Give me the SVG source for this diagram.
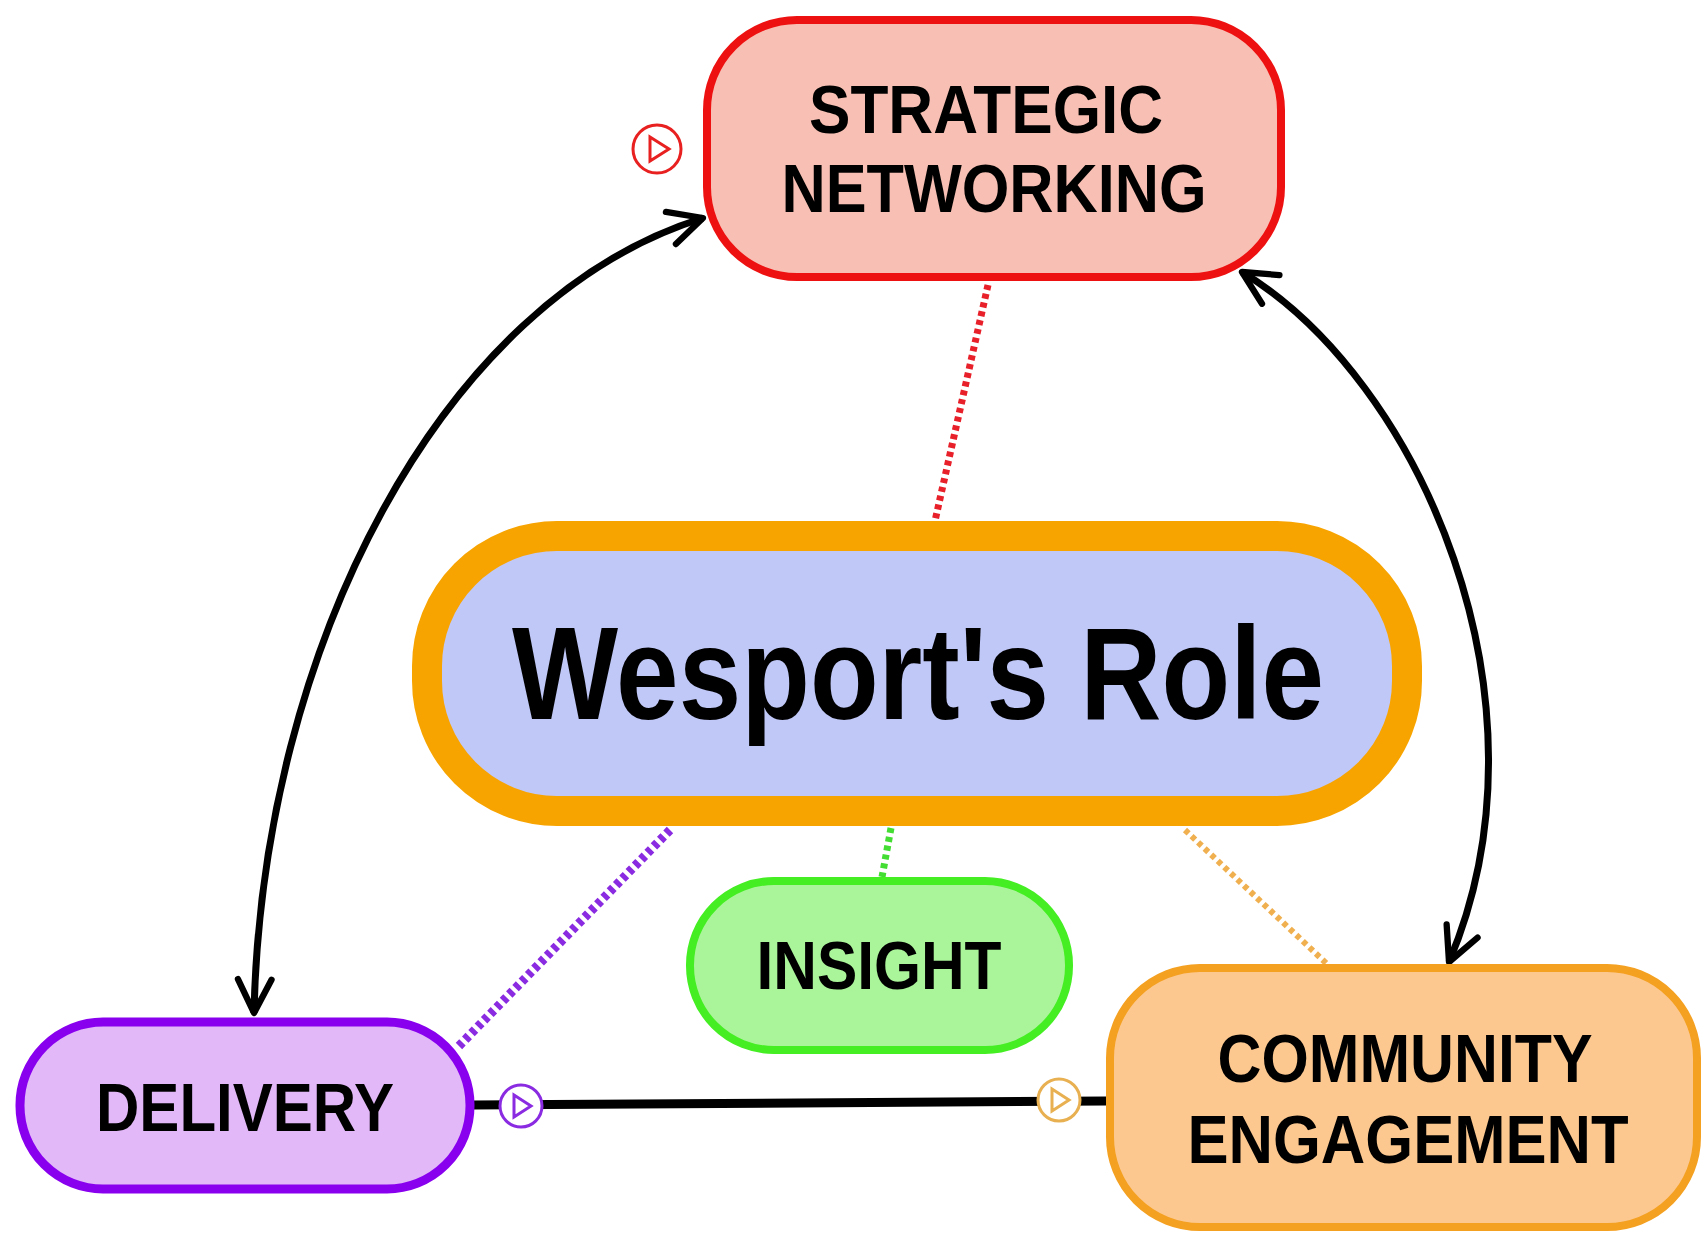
<svg xmlns="http://www.w3.org/2000/svg" width="1708" height="1239" viewBox="0 0 1708 1239">
<style>
.lbl{font-family:"Liberation Sans",Arial,sans-serif;font-weight:bold;fill:#000;text-anchor:middle}
.dot{fill:none;stroke-dasharray:5 4}
.arc{fill:none;stroke:#000;stroke-width:7}
.play{stroke-width:3}
</style>
<defs>
<marker id="chev" viewBox="0 0 20 20" refX="18" refY="10" markerWidth="6" markerHeight="6" orient="auto-start-reverse" markerUnits="strokeWidth">
<path d="M2,2 L18,10 L2,18" fill="none" stroke="#000" stroke-width="3" stroke-linecap="round" stroke-linejoin="round"/>
</marker>
</defs>
<rect width="1708" height="1239" fill="#fff"/>
<g id="connectors">
<path class="dot" d="M988,285 L935,521" stroke="#e8202a" stroke-width="7"/>
<path class="dot" d="M670,830 L457,1048" stroke="#8a2be2" stroke-width="9"/>
<path class="dot" d="M891,828 L882,877" stroke="#44dd33" stroke-width="7"/>
<path class="dot" d="M1185,830 L1327,964" stroke="#f0b050" stroke-width="6"/>
<path class="arc" d="M254,1013 C262,650 440,300 703,218" marker-start="url(#chev)" marker-end="url(#chev)"/>
<path class="arc" d="M1242,272 C1420,380 1560,700 1449,962" marker-start="url(#chev)" marker-end="url(#chev)"/>
<path d="M474,1105 L1106,1101" stroke="#000" stroke-width="9" fill="none"/>
<g id="play-delivery" class="play">
<circle cx="521" cy="1106" r="21" fill="#fff" stroke="#8a2be2"/>
<path d="M514,1095 L531,1106 L514,1117 Z" fill="none" stroke="#8a2be2"/>
</g>
<g id="play-community" class="play">
<circle cx="1059" cy="1100" r="21" fill="#fff" stroke="#e8b050"/>
<path d="M1052,1089 L1069,1100 L1052,1111 Z" fill="none" stroke="#e8b050"/>
</g>
<g id="play-strategic" class="play">
<circle cx="657" cy="149" r="24" fill="#fff" stroke="#e82020"/>
<path d="M650,137 L669,149 L650,161 Z" fill="none" stroke="#e82020"/>
</g>
</g>
<g id="node-strategic">
<rect x="707" y="20" width="574" height="257" rx="90" fill="#f8c0b4" stroke="#ee1111" stroke-width="8"/>
<text class="lbl" x="986" y="133" font-size="68" textLength="354" lengthAdjust="spacingAndGlyphs">STRATEGIC</text>
<text class="lbl" x="994" y="212" font-size="68" textLength="425" lengthAdjust="spacingAndGlyphs">NETWORKING</text>
</g>
<g id="node-role">
<rect x="427" y="536" width="980" height="275" rx="130" fill="#c0c8f8" stroke="#f8a400" stroke-width="30"/>
<text class="lbl" x="918" y="719" font-size="132" textLength="812" lengthAdjust="spacingAndGlyphs">Wesport's Role</text>
</g>
<g id="node-insight">
<rect x="690" y="881" width="379" height="169" rx="84" fill="#aaf59a" stroke="#44ee22" stroke-width="8"/>
<text class="lbl" x="879" y="989" font-size="68" textLength="245" lengthAdjust="spacingAndGlyphs">INSIGHT</text>
</g>
<g id="node-delivery">
<rect x="20" y="1022" width="450" height="167" rx="83" fill="#e2b8f8" stroke="#8800ee" stroke-width="9"/>
<text class="lbl" x="245" y="1131" font-size="68" textLength="298" lengthAdjust="spacingAndGlyphs">DELIVERY</text>
</g>
<g id="node-community">
<rect x="1110" y="968" width="587" height="259" rx="90" fill="#fcc890" stroke="#f4a020" stroke-width="8"/>
<text class="lbl" x="1405" y="1082" font-size="68" textLength="375" lengthAdjust="spacingAndGlyphs">COMMUNITY</text>
<text class="lbl" x="1408" y="1163" font-size="68" textLength="441" lengthAdjust="spacingAndGlyphs">ENGAGEMENT</text>
</g>
</svg>
